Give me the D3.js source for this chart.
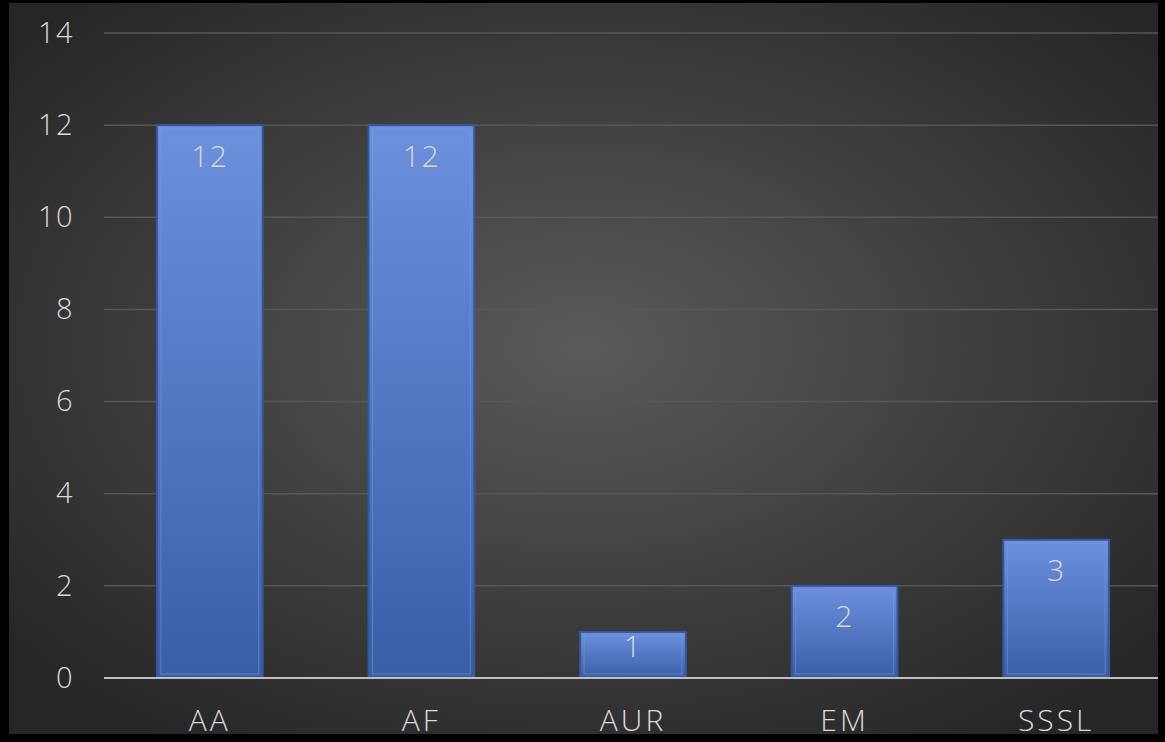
<!DOCTYPE html>
<html>
<head>
<meta charset="utf-8">
<script src="https://cdn.jsdelivr.net/npm/d3@7"></script>
<style>
  html, body { margin: 0; padding: 0; background: #000; }
  svg { display: block; }
  text { font-family: "Open Sans", "Lato", sans-serif; font-weight: 300; fill: #d9d9d9; letter-spacing: 1.5px; }
</style>
</head>
<body>
<div id="chart"></div>
<script>
// Chart data
const categories = ['AA', 'AF', 'AUR', 'EM', 'SSSL'];
const counts = [12, 12, 1, 2, 3];
const yTicks = [0, 2, 4, 6, 8, 10, 12, 14];

const width = 1165;
const height = 742;

// plot area (inside the black frame)
const frame = { left: 9, top: 3, right: 1158, bottom: 734 };
const plot = { left: 104, right: 1162, top: 33, bottom: 678 };

const svg = d3.select('#chart')
  .append('svg')
  .attr('width', width)
  .attr('height', height);

const defs = svg.append('defs');

// dark radial background
const bg = defs.append('radialGradient')
  .attr('id', 'bg')
  .attr('cx', '50%').attr('cy', '47%').attr('r', '65%');
bg.append('stop').attr('offset', '0%').attr('stop-color', '#5a5a5a');
bg.append('stop').attr('offset', '100%').attr('stop-color', '#262626');

// bar fill
const barGrad = defs.append('linearGradient')
  .attr('id', 'bar')
  .attr('x1', 0).attr('y1', 0).attr('x2', 0).attr('y2', 1);
barGrad.append('stop').attr('offset', '0%').attr('stop-color', '#6c90dc');
barGrad.append('stop').attr('offset', '100%').attr('stop-color', '#3a5ea6');

svg.append('rect')
  .attr('width', width)
  .attr('height', height)
  .attr('fill', '#000');

svg.append('rect')
  .attr('x', frame.left)
  .attr('y', frame.top)
  .attr('width', frame.right - frame.left)
  .attr('height', frame.bottom - frame.top)
  .attr('fill', 'url(#bg)');

const x = d3.scaleBand()
  .domain(categories)
  .range([plot.left, plot.right])
  .paddingInner(0.5)
  .paddingOuter(0.25);

const y = d3.scaleLinear()
  .domain([0, 14])
  .range([plot.bottom, plot.top]);

// gridlines
svg.append('g')
  .selectAll('line')
  .data(yTicks.filter(d => d > 0))
  .join('line')
  .attr('x1', plot.left)
  .attr('x2', frame.right)
  .attr('y1', d => y(d))
  .attr('y2', d => y(d))
  .attr('stroke', '#575757')
  .attr('stroke-width', 1.5);

// y axis labels
const yAxis = svg.append('g')
  .attr('transform', `translate(${plot.left - 30},0)`)
  .call(d3.axisLeft(y).tickValues(yTicks).tickSize(0).tickPadding(0));
yAxis.select('.domain').remove();
yAxis.selectAll('text')
  .attr('font-size', 29)
  .attr('fill', '#d9d9d9')
  .style('font-family', '"Open Sans", "Lato", sans-serif');

// bars
const bars = svg.append('g')
  .selectAll('g')
  .data(categories.map((c, i) => ({ cat: c, value: counts[i] })))
  .join('g');

bars.append('rect')
  .attr('x', d => x(d.cat))
  .attr('y', d => y(d.value))
  .attr('width', x.bandwidth())
  .attr('height', d => y(0) - y(d.value))
  .attr('fill', 'url(#bar)')
  .attr('stroke', '#36579a')
  .attr('stroke-width', 2);

// inner bevel line
bars.append('rect')
  .attr('x', d => x(d.cat) + 4)
  .attr('y', d => y(d.value) + 4)
  .attr('width', x.bandwidth() - 8)
  .attr('height', d => y(0) - y(d.value) - 8)
  .attr('fill', 'none')
  .attr('stroke', '#7b9de0')
  .attr('stroke-opacity', 0.5)
  .attr('stroke-width', 1);

// value labels
bars.append('text')
  .attr('x', d => x(d.cat) + x.bandwidth() / 2)
  .attr('y', d => Math.min(y(d.value) + 31, y(0) - 32))
  .attr('dy', '0.35em')
  .attr('text-anchor', 'middle')
  .attr('font-size', 30)
  .text(d => d.value);

// baseline
svg.append('line')
  .attr('x1', plot.left)
  .attr('x2', frame.right)
  .attr('y1', y(0))
  .attr('y2', y(0))
  .attr('stroke', '#bfbfbf')
  .attr('stroke-width', 2);

// x axis labels
svg.append('g')
  .selectAll('text')
  .data(categories)
  .join('text')
  .attr('x', d => x(d) + x.bandwidth() / 2)
  .attr('y', 720)
  .attr('dy', '0.35em')
  .attr('text-anchor', 'middle')
  .attr('font-size', 30)
  .style('letter-spacing', '3px')
  .text(d => d);
</script>
</body>
</html>
